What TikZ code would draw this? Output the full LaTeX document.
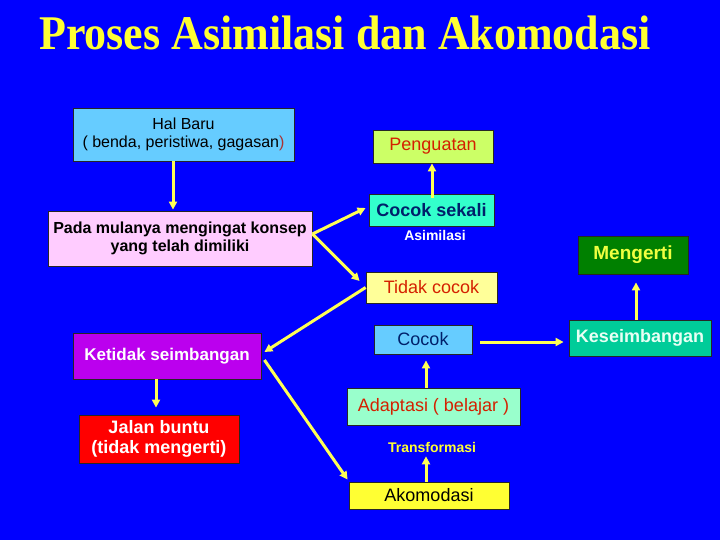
\documentclass[tikz,border=0pt]{standalone}
\usepackage{fontspec}
\setmainfont{Liberation Sans}
\newfontfamily\titlefont{Liberation Serif}
\usetikzlibrary{arrows.meta}
\definecolor{bg}{HTML}{0000FF}
\definecolor{arrowc}{HTML}{FFFF55}
\definecolor{titlec}{HTML}{FFFF33}
\definecolor{halc}{HTML}{66CCFF}
\definecolor{padac}{HTML}{FFCCFF}
\definecolor{pengc}{HTML}{CCFF66}
\definecolor{csc}{HTML}{33FFCC}
\definecolor{mengc}{HTML}{008000}
\definecolor{mengt}{HTML}{F0FF40}
\definecolor{tcc}{HTML}{FFFF99}
\definecolor{cocokc}{HTML}{66CCFF}
\definecolor{kesc}{HTML}{00CC99}
\definecolor{kest}{HTML}{E8FFF4}
\definecolor{ketc}{HTML}{BB00EE}
\definecolor{adapc}{HTML}{99FFCC}
\definecolor{jbc}{HTML}{FF0000}
\definecolor{akoc}{HTML}{FFFF33}
\definecolor{redt}{HTML}{D42000}
\definecolor{navyt}{HTML}{00206A}
\definecolor{paren}{HTML}{AA3333}
\begin{document}
\begin{tikzpicture}[x=1pt,y=-1pt,
  box/.style={draw=black!85, line width=0.8pt, align=center, inner sep=0pt, anchor=center},
  arr/.style={draw=arrowc, line width=3pt, -{Triangle[length=8pt,width=8pt]}},
  fsmall/.style={font=\fontsize{16}{18}\selectfont},
  fmed/.style={font=\fontsize{18}{20}\selectfont},
  fbold/.style={font=\fontsize{18}{20}\selectfont\bfseries},
  flab/.style={font=\fontsize{14}{16}\selectfont\bfseries, inner sep=0pt}]
\fill[bg] (0,0) rectangle (720,540);
\useasboundingbox (0,0) rectangle (720,540);
% title
\node[anchor=base, text=titlec, font=\titlefont\bfseries\fontsize{44}{48}\selectfont] (title) at (345,50)
  {\scalebox{1}[1.1]{Proses Asimilasi dan Akomodasi}};
% boxes
\node[box, fsmall, fill=halc, minimum width=221pt, minimum height=53pt] (hal) at (183.5,134.5)
  {Hal Baru\\( benda, peristiwa, gagasan\textcolor{paren}{)}};
\node[box, font=\fontsize{16}{18}\selectfont\bfseries, fill=padac, minimum width=264pt, minimum height=55pt] (pada) at (180,238.5)
  {Pada mulanya mengingat konsep\\yang telah dimiliki};
\node[box, fmed, fill=pengc, text=redt, minimum width=120pt, minimum height=33pt] (peng) at (433,146.5) {Penguatan};
\node[box, fbold, fill=csc, text=navyt, minimum width=125pt, minimum height=32pt] (cs) at (431.5,210) {Cocok sekali};
\node[flab, text=white] (asim) at (435,235) {Asimilasi};
\node[box, font=\fontsize{19}{21}\selectfont\bfseries, fill=mengc, text=mengt, minimum width=110pt, minimum height=38pt] (meng) at (633,255) {Mengerti};
\node[box, fmed, fill=tcc, text=redt, minimum width=131pt, minimum height=31pt] (tc) at (431.5,287.5) {Tidak cocok};
\node[box, fmed, fill=cocokc, text=navyt, minimum width=98pt, minimum height=29pt] (cocok) at (423,339.5) {Cocok};
\node[box, fbold, fill=kesc, text=kest, minimum width=142pt, minimum height=36pt] (kes) at (640,338) {Keseimbangan};
\node[box, font=\fontsize{17}{19}\selectfont\bfseries, fill=ketc, text=white, minimum width=188pt, minimum height=46pt] (ket) at (167,356) {Ketidak seimbangan};
\node[box, fmed, fill=adapc, text=redt, minimum width=173pt, minimum height=37pt] (adap) at (433.5,406.5) {Adaptasi ( belajar )};
\node[flab, text=titlec] (trans) at (432,447) {Transformasi};
\node[box, fbold, fill=jbc, text=white, minimum width=160pt, minimum height=48pt] (jb) at (159,439) {Jalan buntu\\(tidak mengerti)};
\node[box, fmed, fill=akoc, text=black, minimum width=160pt, minimum height=27pt] (ako) at (429,495.5) {Akomodasi};
% arrows
\draw[arr] ([xshift=-10.5pt]hal.south) -- ([xshift=-7pt,yshift=1pt]pada.north);
\draw[arr] ([xshift=0.5pt,yshift=-4pt]cs.north) -- ([xshift=-1pt]peng.south);
\draw[arr] ([yshift=4.5pt]pada.east) -- ([xshift=-3pt,yshift=2pt]cs.west);
\draw[arr] ([yshift=4.5pt]pada.east) -- ([xshift=-6pt,yshift=6.5pt]tc.west);
\draw[arr] (tc.west) -- ([xshift=3pt,yshift=4pt]ket.east);
\draw[arr] ([xshift=3pt,yshift=-4pt]ket.east) -- ([xshift=-1pt,yshift=2pt]ako.north west);
\draw[arr] ([xshift=-11pt]ket.south) -- ([xshift=-3pt,yshift=7pt]jb.north);
\draw[arr] ([xshift=-7.5pt]adap.north) -- ([xshift=3pt,yshift=-6pt]cocok.south);
\draw[arr] ([xshift=-3pt]ako.north) -- ([xshift=-6pt,yshift=-4pt]trans.south);
\draw[arr] ([xshift=8pt,yshift=-2.5pt]cocok.east) -- ([xshift=-5pt,yshift=-4pt]kes.west);
\draw[arr] ([xshift=-4pt]kes.north) -- ([xshift=3pt,yshift=-8pt]meng.south);
\end{tikzpicture}
\end{document}
